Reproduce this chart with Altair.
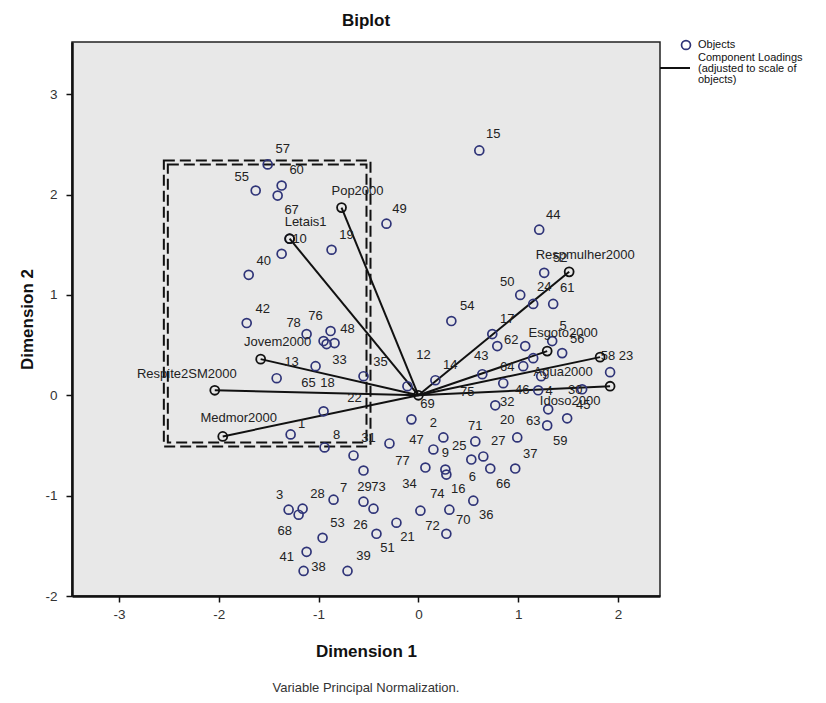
import altair as alt
import pandas as pd

# ---- object scores (circles) ----
obj_x = [-1.51, -1.63, -1.37, -1.41, -1.29, -0.87, -0.32, -1.37, -1.70, -1.72,
         -1.12, -0.88, -0.95, -0.92, -0.84, -1.03, -1.42, -0.55, -0.95, -1.28,
         -0.94, -0.65, -0.55, -0.29, 0.61, 1.21, 1.26, 1.02, 1.15, 1.35,
         0.33, 0.74, 0.79, 1.07, 1.34, 1.44, 1.15, 0.64, 0.17, -0.11,
         1.05, 1.23, 0.85, 0.77, 1.92, 1.20, 1.64, 1.30, 1.49, 1.29,
         -0.07, 0.25, 0.15, 0.57, 0.99, 0.07, 0.27, 0.28, 0.53, 0.65,
         0.72, 0.97, 0.55, 0.02, 0.31, 0.28, -0.22, -0.42, -0.55, -0.45,
         -0.85, -1.30, -1.16, -1.20, -0.96, -1.12, -1.15, -0.71]
obj_y = [2.30, 2.04, 2.09, 1.99, 1.56, 1.45, 1.71, 1.41, 1.20, 0.72,
         0.61, 0.64, 0.54, 0.51, 0.52, 0.29, 0.17, 0.19, -0.16, -0.39,
         -0.52, -0.60, -0.75, -0.48, 2.44, 1.65, 1.22, 1.00, 0.91, 0.91,
         0.74, 0.61, 0.49, 0.49, 0.54, 0.42, 0.37, 0.21, 0.15, 0.09,
         0.29, 0.19, 0.12, -0.10, 0.23, 0.05, 0.06, -0.14, -0.23, -0.30,
         -0.24, -0.42, -0.54, -0.46, -0.42, -0.72, -0.74, -0.79, -0.64, -0.61,
         -0.73, -0.73, -1.05, -1.15, -1.14, -1.38, -1.27, -1.38, -1.06, -1.13,
         -1.04, -1.14, -1.13, -1.19, -1.42, -1.56, -1.75, -1.75]

# ---- object labels ----
lab_text = ["57", "55", "60", "67", "10", "19", "49", "40", "42", "78",
            "76", "48", "13", "33", "35", "65", "18", "22", "1", "8",
            "31", "15", "44", "52", "50", "24", "61", "54", "17", "62",
            "5", "56", "12", "43", "14", "64", "58", "23", "75", "46",
            "4", "30", "45", "69", "32", "2", "71", "20", "63", "59",
            "47", "9", "25", "27", "37", "77", "6", "66", "34", "74",
            "16", "36", "72", "70", "21", "51", "39", "3", "28", "7",
            "29", "73", "68", "53", "26", "41", "38"]
lab_x = [-1.36, -1.77, -1.22, -1.27, -1.19, -0.72, -0.19, -1.55, -1.56, -1.25,
         -1.03, -0.71, -1.27, -0.79, -0.38, -1.10, -0.91, -0.64, -1.17, -0.82,
         -0.50, 0.75, 1.35, 1.42, 0.89, 1.26, 1.49, 0.49, 0.89, 0.93,
         1.45, 1.59, 0.05, 0.63, 0.32, 0.89, 1.90, 2.08, 0.49, 1.04,
         1.31, 1.57, 1.65, 0.09, 0.89, 0.15, 0.57, 0.89, 1.15, 1.42,
         -0.02, 0.27, 0.41, 0.80, 1.12, -0.16, 0.54, 0.85, -0.09, 0.19,
         0.40, 0.68, 0.14, 0.45, -0.11, -0.31, -0.55, -1.39, -1.01, -0.75,
         -0.54, -0.40, -1.34, -0.81, -0.58, -1.32, -1.00]
lab_y = [2.45, 2.17, 2.24, 1.85, 1.56, 1.60, 1.86, 1.34, 0.86, 0.72,
         0.79, 0.66, 0.33, 0.35, 0.33, 0.12, 0.12, -0.03, -0.29, -0.40,
         -0.43, 2.60, 1.80, 1.37, 1.13, 1.08, 1.07, 0.89, 0.76, 0.55,
         0.69, 0.56, 0.40, 0.39, 0.30, 0.28, 0.39, 0.39, 0.03, 0.05,
         0.04, 0.05, -0.10, -0.09, -0.07, -0.28, -0.31, -0.25, -0.26, -0.46,
         -0.45, -0.58, -0.51, -0.46, -0.59, -0.65, -0.81, -0.88, -0.88, -0.98,
         -0.93, -1.19, -1.30, -1.24, -1.41, -1.52, -1.60, -0.99, -0.98, -0.92,
         -0.91, -0.91, -1.35, -1.27, -1.29, -1.61, -1.71]

# ---- component loadings ----
var_names = ["Pop2000", "Letais1", "Jovem2000", "Respite2SM2000", "Medmor2000",
             "Respmulher2000", "Esgoto2000", "Agua2000", "Idoso2000"]
var_x = [-0.77, -1.29, -1.58, -2.04, -1.96, 1.51, 1.29, 1.82, 1.92]
var_y = [1.87, 1.56, 0.36, 0.05, -0.41, 1.23, 0.44, 0.38, 0.09]
var_lab_x = [-0.61, -1.13, -1.41, -2.32, -1.80, 1.67, 1.45, 1.45, 1.52]
var_lab_y = [2.04, 1.73, 0.53, 0.21, -0.23, 1.40, 0.62, 0.23, -0.06]

# ---- highlighted region (dashed box) ----
box_x = [-2.55, -0.48]
box_y = [-0.51, 2.34]

x_ticks = [-3, -2, -1, 0, 1, 2]
y_ticks = [-2, -1, 0, 1, 2, 3]

FONT = "Liberation Sans"
NAVY = "#2f3478"

xs = alt.Scale(domain=[-3.47, 2.42], nice=False, zero=False)
ys = alt.Scale(domain=[-2, 3.52], nice=False, zero=False)
xax = alt.Axis(values=x_ticks, title="Dimension 1", grid=False, domainColor="#111",
               domainWidth=2.5, tickColor="#111", tickSize=6, tickWidth=1.5,
               labelExpr="toString(datum.value)",
               labelFont=FONT, labelFontSize=13.5, labelColor="#333", labelPadding=5,
               titleFont=FONT, titleFontSize=17, titleFontWeight="bold",
               titleColor="#111", titlePadding=23)
yax = alt.Axis(values=y_ticks, title="Dimension 2", grid=False, domainColor="#111",
               domainWidth=2.5, tickColor="#111", tickSize=6, tickWidth=1.5,
               labelExpr="toString(datum.value)",
               labelFont=FONT, labelFontSize=13.5, labelColor="#333", labelPadding=9,
               titleFont=FONT, titleFontSize=17, titleFontWeight="bold",
               titleColor="#111", titlePadding=8)


def X(f):
    return alt.X(f, type="quantitative", scale=xs, axis=xax)


def Y(f):
    return alt.Y(f, type="quantitative", scale=ys, axis=yax)


objects = pd.DataFrame({"x": obj_x, "y": obj_y})
labels = pd.DataFrame({"t": lab_text, "x": lab_x, "y": lab_y})

gap = 0.04
boxes = pd.DataFrame({
    "x": [box_x[0], box_x[0] + gap], "x2": [box_x[1], box_x[1] - gap],
    "y": [box_y[0], box_y[0] + gap], "y2": [box_y[1], box_y[1] - gap],
})

line_rows = []
for i, n in enumerate(var_names):
    line_rows.append({"v": n, "o": 0, "x": 0.0, "y": 0.0})
    line_rows.append({"v": n, "o": 1, "x": var_x[i], "y": var_y[i]})
lines = pd.DataFrame(line_rows)
ends = pd.DataFrame({"x": [0.0] + var_x, "y": [0.0] + var_y})
var_labels = pd.DataFrame({"t": var_names, "x": var_lab_x, "y": var_lab_y})

box_layer = alt.Chart(boxes).mark_rect(
    fillOpacity=0, stroke="#111", strokeWidth=2, strokeDash=[11, 5]
).encode(x=X("x"), x2="x2", y=Y("y"), y2="y2")

obj_layer = alt.Chart(objects).mark_point(
    shape="circle", filled=False, size=80, strokeWidth=1.7, color=NAVY, opacity=1
).encode(x=X("x"), y=Y("y"))

lab_layer = alt.Chart(labels).mark_text(
    font=FONT, fontSize=13, color="#222"
).encode(x=X("x"), y=Y("y"), text="t:N")

line_layer = alt.Chart(lines).mark_line(color="#111", strokeWidth=2).encode(
    x=X("x"), y=Y("y"), detail="v:N", order="o:Q")

end_layer = alt.Chart(ends).mark_point(
    shape="circle", filled=False, size=80, strokeWidth=1.8, color="#111", opacity=1
).encode(x=X("x"), y=Y("y"))

var_lab_layer = alt.Chart(var_labels).mark_text(
    font=FONT, fontSize=13, color="#222"
).encode(x=X("x"), y=Y("y"), text="t:N")

# ---- legend & footnote ----
leg_obj_sym = alt.Chart(pd.DataFrame({"k": ["Objects"]})).mark_point(
    shape="circle", filled=False, size=80, strokeWidth=1.7, color=NAVY, opacity=1
).encode(x=alt.value(614), y=alt.value(3))
leg_obj_txt = alt.Chart(pd.DataFrame({"k": ["Objects"]})).mark_text(
    font=FONT, fontSize=11, color="#111", align="left", baseline="middle"
).encode(x=alt.value(626), y=alt.value(3), text="k:N")
leg_line = alt.Chart(pd.DataFrame({"k": ["Component Loadings"]})).mark_rule(
    color="#111", strokeWidth=2
).encode(x=alt.value(588), x2=alt.value(618), y=alt.value(26))
leg_line_txt = alt.Chart(pd.DataFrame({"k": ["Component Loadings"]})).mark_text(
    font=FONT, fontSize=11, color="#111", align="left", baseline="middle", lineHeight=11
).encode(x=alt.value(626), y=alt.value(16),
         text=alt.value(["Component Loadings", "(adjusted to scale of", "objects)"]))
foot = alt.Chart(pd.DataFrame({"k": ["Variable Principal Normalization."]})).mark_text(
    font=FONT, fontSize=13, color="#333", align="center", baseline="middle"
).encode(x=alt.value(294), y=alt.value(646), text="k:N")

chart = alt.layer(
    box_layer, line_layer, obj_layer, lab_layer, end_layer, var_lab_layer,
    leg_obj_sym, leg_obj_txt, leg_line, leg_line_txt, foot
).properties(
    width=588, height=554,
    background="white",
    title=alt.TitleParams("Biplot", font=FONT, fontSize=17, fontWeight="bold",
                          color="#111", anchor="middle", offset=7),
    autosize=alt.AutoSizeParams(type="none"),
    padding={"left": 64, "top": 34, "right": 158, "bottom": 100},
).configure_view(
    fill="#e8e8e8", stroke="#222", strokeWidth=1.5
)

chart.save("out.html", embed_options={"renderer": "svg", "actions": False})
